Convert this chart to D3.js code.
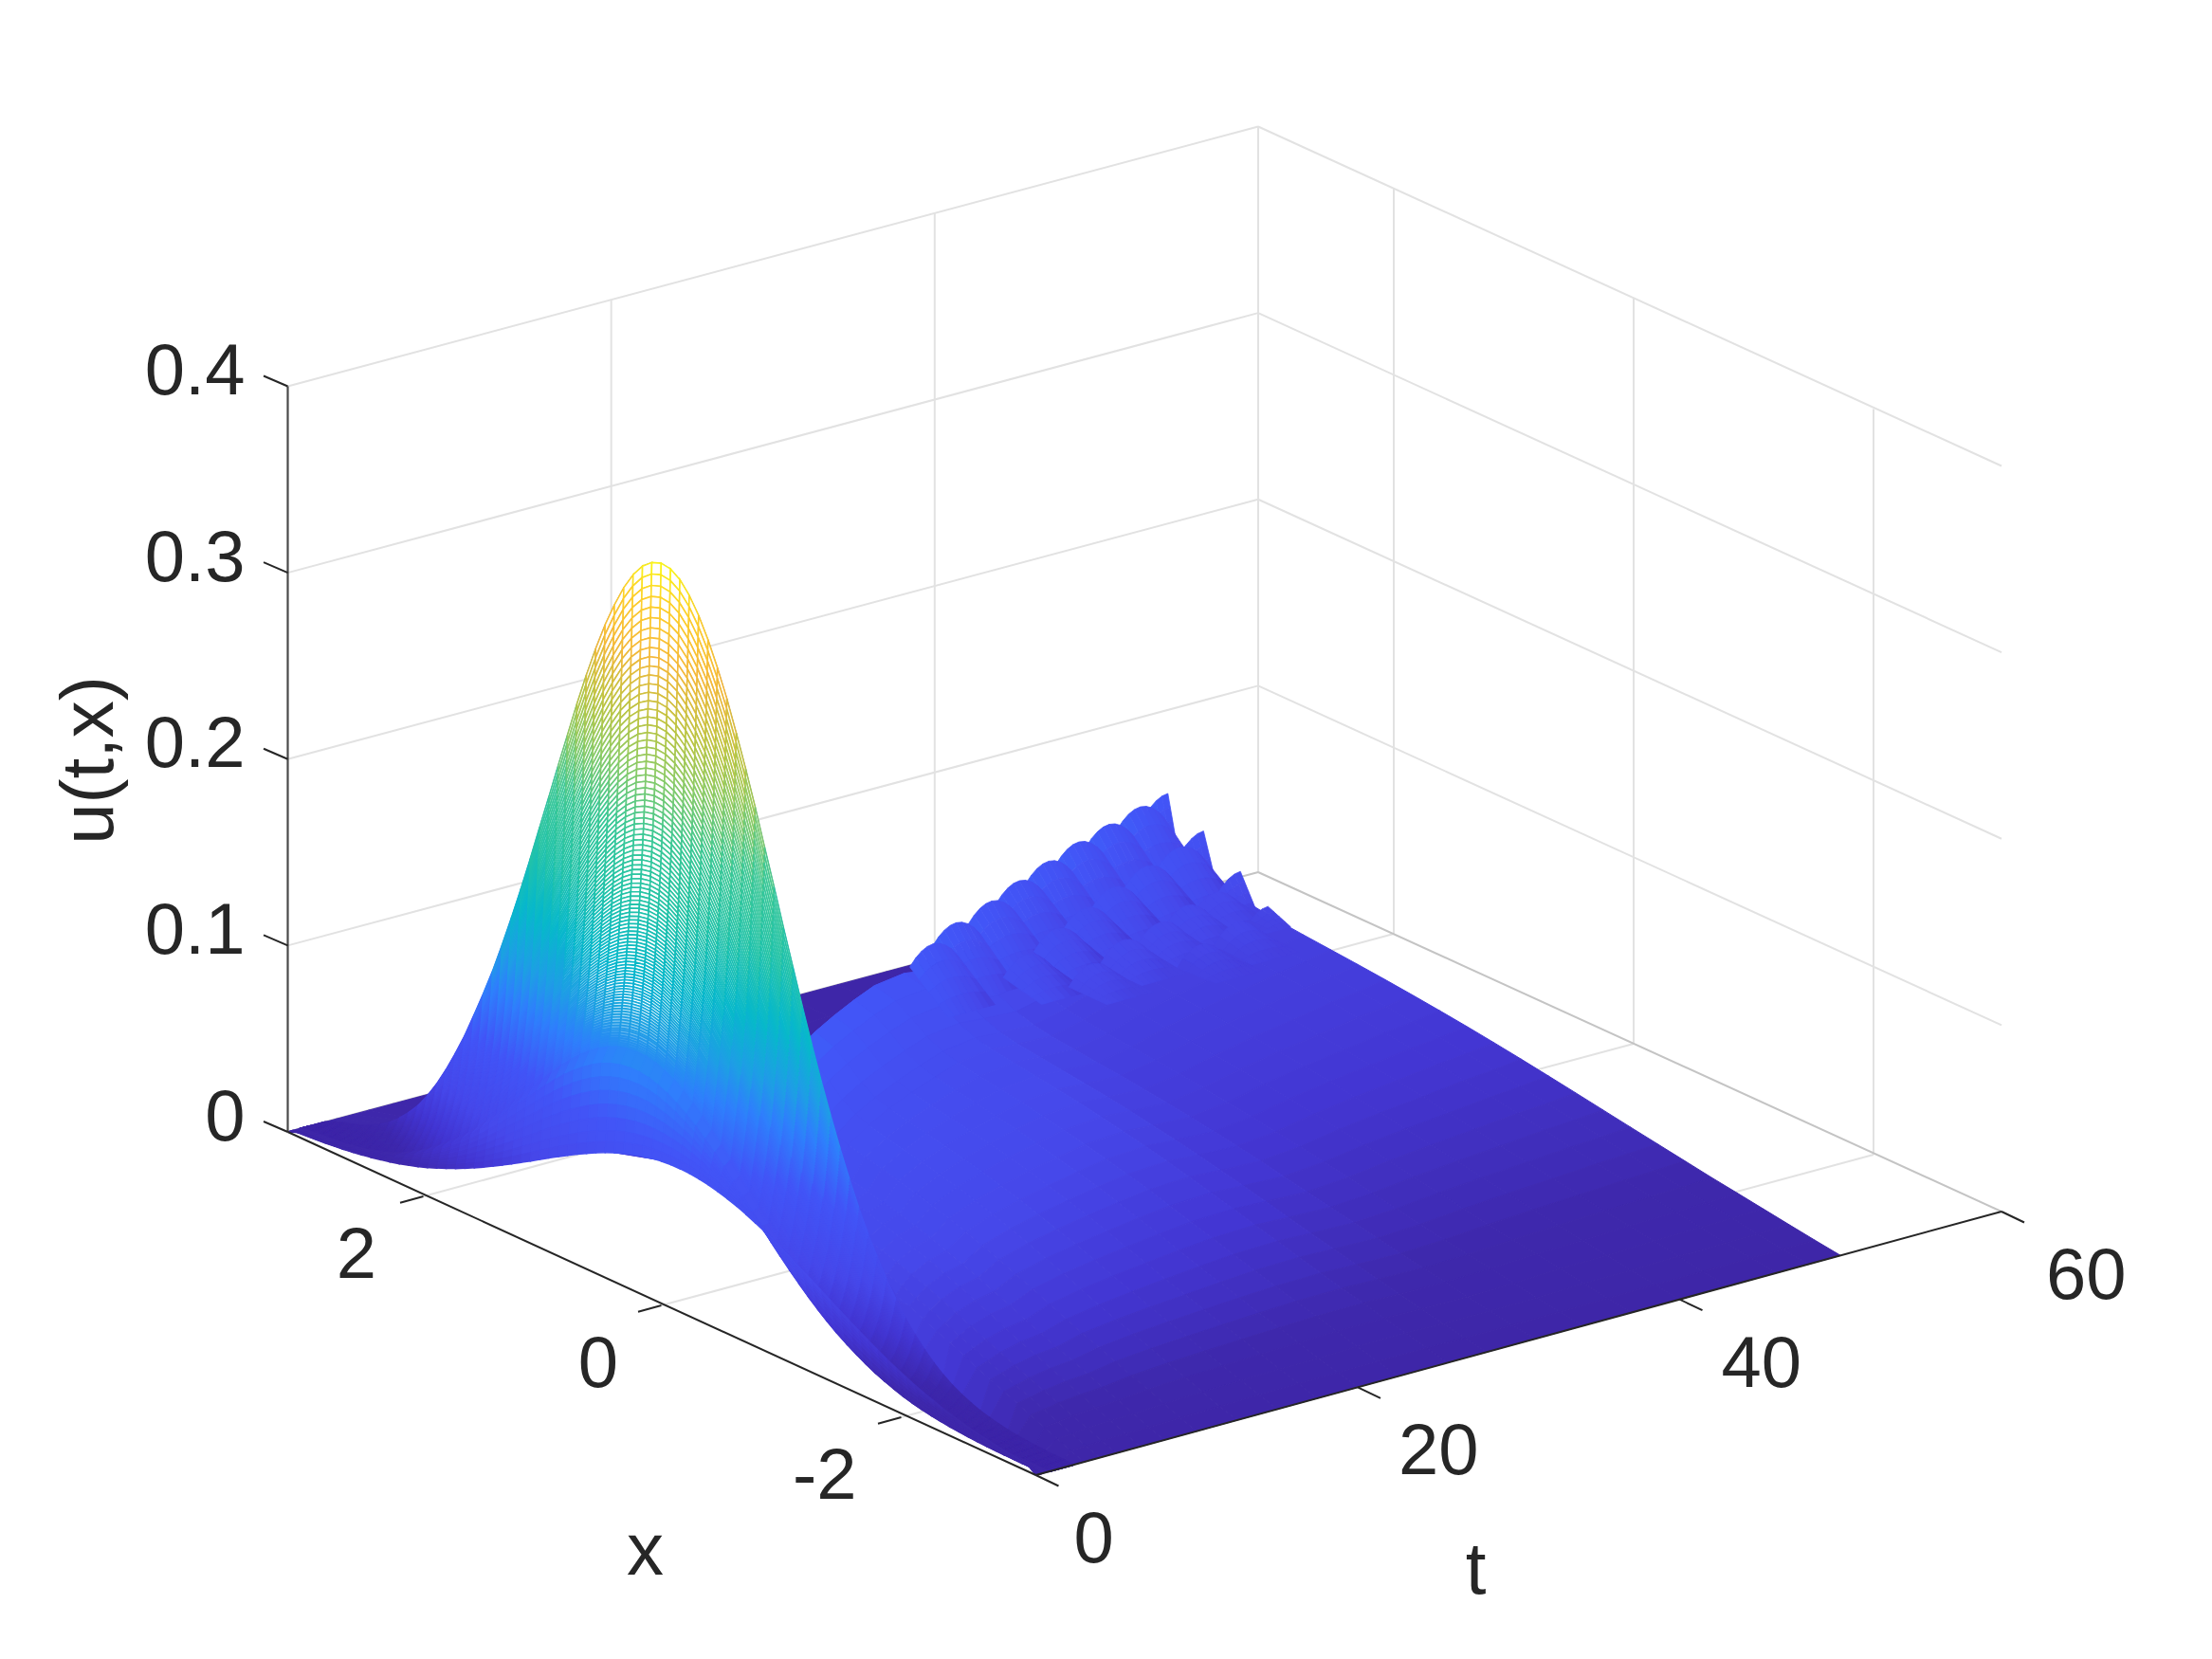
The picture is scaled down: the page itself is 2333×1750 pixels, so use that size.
<!DOCTYPE html>
<html><head><meta charset="utf-8">
<script src="https://cdnjs.cloudflare.com/ajax/libs/d3/7.8.5/d3.min.js"></script>
<style>html,body{margin:0;background:#fff}svg{display:block}text{font-family:"Liberation Sans",Arial,sans-serif;fill:#262626}</style>
</head><body><div id="c"></div>
<script>
// ---------- axes ----------
const xTicks=[2,0,-2], tTicks=[0,20,40,60], zTicks=[0,0.1,0.2,0.3,0.4];
const zTickLabels=["0","0.1","0.2","0.3","0.4"];
const xLabelDx=[-49.5,-45.5,-47], tLabelDx=[40,43,44,47];
const PI=3.1416;
// ---------- surface, rising stage: crest height of each mesh row ----------
const lowCrest=[.078,.083,.088,.094,.1,.106,.112,.118];
const lowTimes=[0,.05,.1,.15,.2,.26,.32,.38];
const lowMix=[0,.14,.28,.42,.56,.7,.82,.92];
const upperCrest=[.125,.1262,.1274,.1286,.1298,.131,.1325,.134,.135,.1365,.138,.1395,.141,.1425,.144,.1455,.147,.1485,.15,.1515,.153,.1545,.156,.1575,.1591,.1607,.1623,.1639,.1655,.1671,.1688,.1705,.1722,.1739,.1756,.1774,.1792,.181,.1829,.1848,.1867,.1887,.1907,.1927,.1947,.1968,.1989,.201,.2032,.2054,.2077,.21,.2123,.2147,.2171,.2196,.2221,.2247,.2273,.23,.2327,.2355,.2383,.2412,.2441,.2471,.2502,.2533,.2565,.2598,.2631,.2665,.27,.2736,.2772,.2809,.2847,.2886,.2926,.2967,.3009,.3052,.3096,.3141,.3187,.3234,.3282,.3331,.3381,.3433,.3486,.3541,.3597,.3654,.3713,.3774,.3836];
// relative profile across x (81 columns, x=-pi..pi) at the crest and at t=0
const crestProfile=[0,.0019,.0025,.0034,.0044,.0058,.0075,.0097,.0125,.0159,.02,.0252,.0314,.0388,.0478,.0584,.0711,.0854,.102,.122,.144,.169,.196,.227,.261,.298,.338,.38,.425,.472,.521,.57,.621,.67,.72,.767,.811,.853,.89,.923,.951,.973,.989,.998,1,.995,.984,.966,.942,.912,.878,.839,.796,.75,.701,.652,.602,.553,.503,.455,.409,.365,.323,.285,.249,.214,.183,.154,.128,.105,.085,.069,.055,.043,.034,.026,.02,.015,.011,.006,0];
const startProfile=[0,.052,.061,.071,.083,.096,.11,.126,.144,.163,.184,.208,.232,.259,.289,.32,.352,.386,.421,.458,.497,.535,.574,.614,.654,.693,.731,.769,.804,.838,.869,.898,.924,.946,.965,.98,.991,.998,1,.998,.992,.982,.968,.95,.928,.903,.875,.844,.81,.775,.738,.7,.661,.621,.581,.542,.503,.465,.428,.392,.358,.325,.294,.265,.238,.212,.188,.167,.147,.129,.113,.098,.085,.073,.063,.054,.046,.039,.033,.028,0];
// ---------- surface, travelling front stage ----------
const lateTimes=[3,4,5,6.5,8,10,12.5,15,17.5,20,22.5,25.6,28,31,34,37,40,43,46,48,50];
const frontX=[-.3,-.15,-.05,.05,.15,.35,.55,.75,.93,1.1,1.27,1.44,1.57,1.72,1.88,2.04,2.17,2.28,2.4,2.46,2.54];
const frontZ=[.1,.1,.105,.11,.11,.115,.115,.112,.109,.106,.102,.095,.085,.074,.07,.07,.07,.07,.07,.07,.07];
const tailZ=[.085,.075,.06,.055,.045,.03,.012,0,0,0,0,0,0,0,0,0,0,0,0,0,0];
const tailPos=[.25,.5,.75,1];
const rampPos=[0,.04,.08,.12,.16,.2,.24,.28,.32,.36,.4,.44,.48,.52,.56,.6,.64,.68,.72,.76,.8,.84,.87,.9,.93,.96,1];
const rampVal=[0,.03,.062,.095,.128,.16,.193,.226,.259,.293,.327,.36,.392,.422,.45,.476,.5,.522,.542,.56,.578,.598,.62,.66,.72,.77,.8];
// ---------- ripple crests behind the front (draw order, far first) ----------
const rippleRow=[0,0,0,0,0,0,0,0,0, 1,1,1,1,1,1,1, 2,2,2,2,2,2, 3,3,3];
const rippleT=[50,47.6,44.9,42.3,39.7,37.3,34.4,30.8,28.5, 50,47.8,45.2,42.4,40,37.5,34.5, 50,48,45.5,43.2,40.3,37.5, 50,47,44];
const rippleX=[2.54,2.445,2.34,2.24,2.14,2.06,1.9,1.71,1.59, 2.24,2.14,2.06,1.96,1.87,1.77,1.62, 1.93,1.87,1.77,1.68,1.59,1.48, 1.7,1.55,1.45];
const rippleZ=[.083,.0842,.0842,.0838,.0825,.08,.0806,.083,.0806, .0716,.071,.0693,.0675,.0647,.0624,.06, .059,.054,.056,.055,.055,.052, .047,.05,.048];
const rippleLen=[.08,.32,.32,.32,.32,.32,.32,.32,.32, .11,.32,.32,.32,.32,.32,.32, .14,.32,.32,.32,.32,.32, .19,.32,.32];
const rippleValley=[.056,.054,.054,.054,.054,.054,.054,.054,.054, .0456,.046,.046,.046,.046,.046,.046, .041,.043,.043,.043,.043,.043, .0416,.04,.04];
const rowShade=[.018,.016,.006,.003], rowFloor=[.032,.036,.042,.04];
// ---------- colour (height -> colour) ----------
const colourZ=[0,.012,.03,.05,.085,.115,.135,.165,.2,.237,.27,.295,.33,.36,.384];
const colourHex=["#3e26a8","#3e28ac","#4336d2","#4648ea","#4255f7","#2f7ffc","#1f9de6","#07b8cb","#22c3a8","#3cc896","#8dcb66","#b9c544","#f5b83a","#fdcf2b","#f9fb15"];

const W=2333,H=1750;
const colour=d3.scaleLinear().domain(colourZ).range(colourHex).clamp(true);
const openness=d3.scaleLinear().domain([.125,.15]).range([0,1]).clamp(true);
const origin=[303.5,1194], backShift=[1023.5,-274];
const xDom=[PI,2,0,-2,-PI];
const frontPxX=d3.scaleLinear().domain(xDom).range([0,143,394,647,789]);
const backPxX=d3.scaleLinear().domain(xDom).range([0,143,396,649,784]);
const frontPxY=d3.scaleLinear().domain(xDom).range([0,68,183,301,362]);
const backPxY=d3.scaleLinear().domain(xDom).range([0,65,181,298,358]);
const tFrac=d3.scaleLinear().domain([0,60]).range([0,1]);
const zToPx=d3.scaleLinear().domain([0,.4]).range([0,-786.5]);
const P=(t,x,z)=>{const v=tFrac(t);return [
  origin[0]+backShift[0]*v+frontPxX(x)+(backPxX(x)-frontPxX(x))*v,
  origin[1]+backShift[1]*v+frontPxY(x)+(backPxY(x)-frontPxY(x))*v+zToPx(z)];};
const line=d3.line();
const svg=d3.select("#c").append("svg").attr("width",W).attr("height",H).attr("viewBox",[0,0,W,H]);
const seg=(g,a,b,c,w)=>g.append("path").attr("d",line([a,b])).attr("stroke",c).attr("stroke-width",w).attr("fill","none");

// box and grid
const gGrid=svg.append("g");
const GC="#e2e2e2";
zTicks.filter(z=>z>0).forEach(z=>{seg(gGrid,P(0,PI,z),P(60,PI,z),GC,2);seg(gGrid,P(60,PI,z),P(60,-PI,z),GC,2);});
tTicks.filter(t=>t>0).forEach(t=>seg(gGrid,P(t,PI,0),P(t,PI,.4),GC,2));
xTicks.forEach(x=>{seg(gGrid,P(60,x,0),P(60,x,.4),GC,2);seg(gGrid,P(0,x,0),P(60,x,0),GC,2);});
tTicks.filter(t=>t>0&&t<60).forEach(t=>seg(gGrid,P(t,PI,0),P(t,-PI,0),GC,2));
seg(gGrid,P(60,PI,0),P(60,-PI,0),"#c4c4c4",2);
seg(gGrid,P(0,PI,0),P(60,PI,0),"#c4c4c4",2);

const quad=(pts)=>line(pts)+"Z";

// rising stage mesh values
const upperTimes=upperCrest.map((_,i)=>.8+i*(2.3-.8)/(upperCrest.length-1));
const rowT=lowTimes.concat(upperTimes), rowA=lowCrest.concat(upperCrest), rowW=lowMix.concat(upperCrest.map(()=>1));
const colX=crestProfile.map((_,j)=>-PI+j*2*PI/80);
const Z=rowA.map((A,i)=>crestProfile.map((v,j)=>A*(rowW[i]*v+(1-rowW[i])*startProfile[j])));

// front stage patch (far side of the surface)
const lateCells=[];
const lateCol=(i)=>{
  const xs=frontX[i],h=frontZ[i],tl=tailZ[i];
  const cols=rampPos.map((p,k)=>({x:-PI+p*(xs+PI),z:h*rampVal[k]}));
  const x2=xs+.1;
  cols.push({x:x2,z:tl*(PI-x2)/(PI-xs)});
  tailPos.forEach(f=>{const x=x2+f*(PI-x2);cols.push({x,z:tl*(PI-x)/(PI-xs)});});
  return cols;
};
for(let i=lateTimes.length-2;i>=0;i--){
  const a=lateCol(i),b=lateCol(i+1);
  for(let k=a.length-2;k>=0;k--){
    lateCells.push({z:(a[k].z+a[k+1].z+b[k].z+b[k+1].z)/4,
      p:[P(lateTimes[i],a[k].x,a[k].z),P(lateTimes[i],a[k+1].x,a[k+1].z),P(lateTimes[i+1],b[k+1].x,b[k+1].z),P(lateTimes[i+1],b[k].x,b[k].z)]});
  }
}
// strip joining the crest row to the first front-stage row
{
  const a=lateCol(0), last=rowT.length-1;
  const nearest=x=>Math.round((x+PI)/(2*PI)*80);
  for(let k=a.length-2;k>=0;k--){
    const j0=nearest(a[k].x), j1=nearest(a[k+1].x);
    const pts=[P(lateTimes[0],a[k].x,a[k].z),P(lateTimes[0],a[k+1].x,a[k+1].z)];
    for(let j=j1;j>=j0;j--)pts.push(P(rowT[last],colX[j],Z[last][j]));
    lateCells.push({z:(a[k].z+a[k+1].z)/2,p:pts});
  }
}
svg.append("g").selectAll("path").data(lateCells).join("path").attr("d",d=>quad(d.p))
  .attr("fill",d=>colour(d.z)).attr("stroke",d=>colour(d.z)).attr("stroke-width",1);

// ripples
const rippleCells=[];
const sSteps=[-1,-.75,-.5,-.25,0,.25,.5,.75,1], rSteps=[0,.25,.5,.75,1];
rippleT.forEach((t0,n)=>{
  const ss=t0>=50?sSteps.slice(0,5):sSteps;
  const row=rippleRow[n];
  const pt=(s,r)=>{const t=t0+s*1.45,x=rippleX[n]-r*rippleLen[n];
    const top=rippleZ[n]-.009*s*s;
    const z=top-(top-rippleValley[n])*r;return {t,x,z};};
  for(let a=ss.length-2;a>=0;a--)for(let b=0;b<rSteps.length-1;b++){
    const q=[pt(ss[a],rSteps[b]),pt(ss[a+1],rSteps[b]),pt(ss[a+1],rSteps[b+1]),pt(ss[a],rSteps[b+1])];
    const sm=(ss[a]+ss[a+1])/2;
    const zc=d3.mean(q,d=>d.z);
    rippleCells.push({z:Math.max(rowFloor[row],zc-rowShade[row]*sm),p:q.map(d=>P(d.t,d.x,d.z))});
  }
});
svg.append("g").selectAll("path").data(rippleCells).join("path").attr("d",d=>quad(d.p))
  .attr("fill",d=>colour(d.z)).attr("stroke",d=>colour(d.z)).attr("stroke-width",.8);

// rising stage mesh
const meshCells=[];
for(let i=rowT.length-2;i>=0;i--)for(let j=colX.length-2;j>=0;j--){
  meshCells.push({z:(Z[i][j]+Z[i][j+1]+Z[i+1][j]+Z[i+1][j+1])/4,
    p:[P(rowT[i],colX[j],Z[i][j]),P(rowT[i],colX[j+1],Z[i][j+1]),P(rowT[i+1],colX[j+1],Z[i+1][j+1]),P(rowT[i+1],colX[j],Z[i+1][j])]});
}
svg.append("g").selectAll("path").data(meshCells).join("path").attr("d",d=>quad(d.p))
  .attr("fill",d=>d3.interpolateRgb(colour(d.z),"#fff")(openness(d.z))).attr("stroke",d=>colour(d.z)).attr("stroke-width",1.6);

// axes
const gAxis=svg.append("g");
const AC="#262626";
seg(gAxis,P(0,PI,0),P(0,PI,.4),"#4a4a4a",2.2);
seg(gAxis,P(0,PI,0),P(0,-PI,0),AC,2);
seg(gAxis,P(0,-PI,0),P(60,-PI,0),AC,2);
const add=(a,dx,dy)=>[a[0]+dx,a[1]+dy];
const label=(txt,pos,anchor,rot,size)=>{const n=svg.append("text").attr("font-size",size||76).attr("text-anchor",anchor).text(txt);
  n.attr("transform",`translate(${pos[0]},${pos[1]})`+(rot?` rotate(${rot})`:""));return n;};
zTicks.forEach((z,i)=>{const a=P(0,PI,z);seg(gAxis,a,add(a,-25.5,-11),AC,2);label(zTickLabels[i],add(a,-45,8.5),"end");});
xTicks.forEach((x,i)=>{const a=P(0,x,0);seg(gAxis,a,add(a,-24.5,6.7),AC,2);label(String(x),add(a,xLabelDx[i],86),"end");});
tTicks.forEach((t,i)=>{const a=P(t,-PI,0);seg(gAxis,a,add(a,24,11.5),AC,2);label(String(t),add(a,tLabelDx[i],92),"start");});
label("x",add(P(0,0,0),-17,284),"middle",0,78);
label("t",add(P(0,-PI,0),464,125),"middle",0,78);
label("u(t,x)",[119,802],"middle",-90,78);
</script></body></html>
